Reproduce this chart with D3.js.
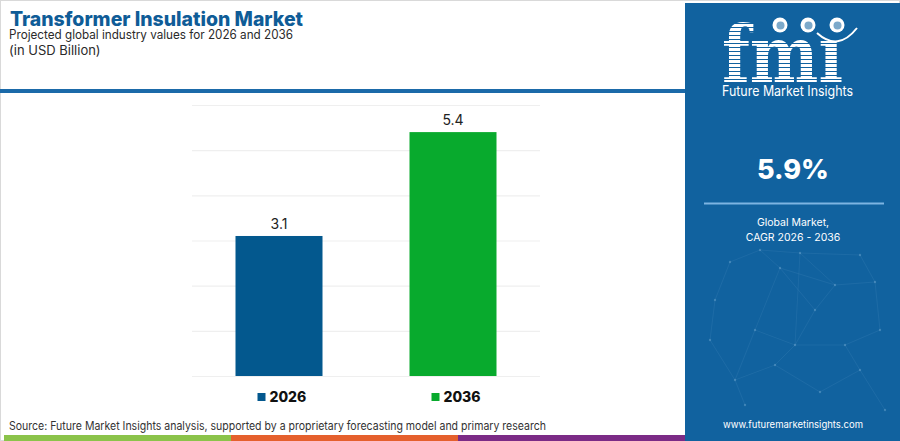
<!DOCTYPE html>
<html>
<head>
<meta charset="utf-8">
<script src="https://cdn.jsdelivr.net/npm/d3@7"></script>
<style>
  body { margin: 0; background: #fff; }
  svg { display: block; font-family: Inter, "Noto Sans", sans-serif; }
</style>
</head>
<body>
<div class="canva"></div>
<script>
// data
const years = ['2026', '2036'];
const values = [3.1, 5.4];
const barColors = ['#03588e', '#08aa2d'];
const yTicks = [0, 1, 2, 3, 4, 5, 6];
const cagr = '5.9%';
const stripeColors = ['#8bc34a', '#e5602d', '#7b2b86'];

const W = 900, H = 441;

const svg = d3.select('.canva').append('svg')
  .attr('width', W)
  .attr('height', H);

// frame
svg.append('rect')
  .attr('x', 0.5).attr('y', 0.5)
  .attr('width', W - 1).attr('height', H - 1)
  .attr('fill', '#fff')
  .attr('stroke', '#d9d9d9');

// header
svg.append('text')
  .attr('x', 10).attr('y', 26)
  .attr('font-size', 20)
  .attr('font-weight', 800)
  .attr('fill', '#0f5c97')
  .attr('textLength', 293)
  .attr('lengthAdjust', 'spacingAndGlyphs')
  .text('Transformer Insulation Market');

svg.append('text')
  .attr('x', 9).attr('y', 39)
  .attr('font-size', 12.5)
  .attr('fill', '#2a2a2a')
  .attr('textLength', 284)
  .attr('lengthAdjust', 'spacingAndGlyphs')
  .text('Projected global industry values for 2026 and 2036');

svg.append('text')
  .attr('x', 9).attr('y', 55)
  .attr('font-size', 13)
  .attr('fill', '#2a2a2a')
  .text('(in USD Billion)');

svg.append('rect')
  .attr('x', 0).attr('y', 89)
  .attr('width', 686).attr('height', 4)
  .attr('fill', '#1b6aa9');

// chart
const x = d3.scaleBand()
  .domain(years)
  .range([192, 540])
  .paddingInner(0.5)
  .paddingOuter(0.25);

const y = d3.scaleLinear()
  .domain([0, 6])
  .range([376, 105]);

const grid = svg.append('g')
  .attr('transform', 'translate(192,0)')
  .call(d3.axisLeft(y).tickValues(yTicks).tickSize(-348).tickFormat(''));
grid.select('.domain').remove();
grid.selectAll('line').attr('stroke', '#efefef').attr('stroke-width', 1.2);

svg.selectAll('rect.bar')
  .data(values)
  .enter().append('rect')
  .attr('class', 'bar')
  .attr('x', (d, i) => x(years[i]))
  .attr('y', d => y(d))
  .attr('width', x.bandwidth())
  .attr('height', d => y(0) - y(d))
  .attr('fill', (d, i) => barColors[i]);

svg.selectAll('text.val')
  .data(values)
  .enter().append('text')
  .attr('class', 'val')
  .attr('x', (d, i) => x(years[i]) + x.bandwidth() / 2)
  .attr('y', d => y(d) - 7)
  .attr('text-anchor', 'middle')
  .attr('font-size', 14)
  .attr('fill', '#222')
  .text(d => d.toFixed(1));

// legend
const legend = svg.selectAll('g.leg')
  .data(years)
  .enter().append('g')
  .attr('class', 'leg')
  .attr('transform', (d, i) => `translate(${x(d) + 22},0)`);

legend.append('rect')
  .attr('x', 0).attr('y', 393)
  .attr('width', 8).attr('height', 8)
  .attr('fill', (d, i) => barColors[i]);

legend.append('text')
  .attr('x', 12).attr('y', 402)
  .attr('font-size', 14)
  .attr('font-weight', 800)
  .attr('fill', '#111')
  .text(d => d);

// source
svg.append('text')
  .attr('x', 9).attr('y', 430)
  .attr('font-size', 11.5)
  .attr('fill', '#333')
  .attr('textLength', 537)
  .attr('lengthAdjust', 'spacingAndGlyphs')
  .text('Source: Future Market Insights analysis, supported by a proprietary forecasting model and primary research');

// color strip
const stripX = d3.scaleLinear().domain([0, 3]).range([4, 685]);
svg.selectAll('rect.strip')
  .data(stripeColors)
  .enter().append('rect')
  .attr('class', 'strip')
  .attr('x', (d, i) => stripX(i))
  .attr('y', 435)
  .attr('width', stripX(1) - stripX(0))
  .attr('height', 6)
  .attr('fill', d => d);

// right panel
const panel = svg.append('g');
panel.append('rect')
  .attr('x', 685).attr('y', 3)
  .attr('width', W - 685).attr('height', H - 3)
  .attr('fill', '#11629f');

// faint network decoration
const nodes = [[730,262],[760,250],[800,253],[780,268],[835,285],[875,282],[715,300],[755,330],[795,345],[845,345],[880,330],[735,380],[775,365],[820,392],[860,370],[745,405],[885,410],[710,340],[860,255],[815,310]];
const links = [[0,1],[1,2],[2,4],[4,5],[0,6],[1,3],[3,7],[7,8],[8,9],[9,10],[5,10],[6,17],[17,11],[11,12],[12,8],[12,13],[13,14],[14,9],[11,15],[14,16],[3,4],[7,11],[2,8],[2,18],[18,5],[19,8],[19,4],[19,3]];
panel.selectAll('line.net')
  .data(links)
  .enter().append('line')
  .attr('x1', d => nodes[d[0]][0]).attr('y1', d => nodes[d[0]][1])
  .attr('x2', d => nodes[d[1]][0]).attr('y2', d => nodes[d[1]][1])
  .attr('stroke', '#5f9ccc').attr('stroke-opacity', 0.22).attr('stroke-width', 0.7);
panel.selectAll('circle.net')
  .data(nodes)
  .enter().append('circle')
  .attr('cx', d => d[0]).attr('cy', d => d[1]).attr('r', 1.2)
  .attr('fill', '#8fbde0').attr('fill-opacity', 0.35);

// logo
const defs = svg.append('defs');
const pat = defs.append('pattern')
  .attr('id', 'stripes')
  .attr('patternUnits', 'userSpaceOnUse')
  .attr('width', 8).attr('height', 4);
pat.append('rect').attr('width', 8).attr('height', 3).attr('fill', '#fff');

panel.append('text')
  .attr('x', 722).attr('y', 82)
  .attr('font-family', '"DejaVu Serif", serif')
  .attr('font-weight', 'bold')
  .attr('font-size', 78)
  .attr('fill', 'url(#stripes)')
  .attr('textLength', 121)
  .attr('lengthAdjust', 'spacingAndGlyphs')
  .text('fmı');

[780, 808, 837].forEach(cx => {
  panel.append('circle')
    .attr('cx', cx).attr('cy', 25).attr('r', 7.5)
    .attr('fill', '#fff');
  panel.append('circle')
    .attr('cx', cx + 0.5).attr('cy', 25.5).attr('r', 4)
    .attr('fill', '#11629f').attr('fill-opacity', 0.55);
});

panel.append('path')
  .attr('d', 'M817,33 Q838,52 857,28')
  .attr('fill', 'none')
  .attr('stroke', '#fff')
  .attr('stroke-width', 2);

panel.append('text')
  .attr('x', 722).attr('y', 96)
  .attr('font-size', 14)
  .attr('fill', '#fff')
  .attr('textLength', 131)
  .attr('lengthAdjust', 'spacingAndGlyphs')
  .text('Future Market Insights');

panel.append('text')
  .attr('x', 793).attr('y', 179)
  .attr('text-anchor', 'middle')
  .attr('font-size', 27)
  .attr('font-weight', 800)
  .attr('fill', '#fff')
  .text(cagr);

panel.append('line')
  .attr('x1', 704).attr('x2', 884)
  .attr('y1', 203.5).attr('y2', 203.5)
  .attr('stroke', '#7db4e2').attr('stroke-width', 2);

panel.append('text')
  .attr('x', 793).attr('y', 226)
  .attr('text-anchor', 'middle')
  .attr('font-size', 10.5)
  .attr('fill', '#fff')
  .text('Global Market,');

panel.append('text')
  .attr('x', 793).attr('y', 241)
  .attr('text-anchor', 'middle')
  .attr('font-size', 10.5)
  .attr('fill', '#fff')
  .text('CAGR 2026 - 2036');

panel.append('text')
  .attr('x', 793).attr('y', 428)
  .attr('text-anchor', 'middle')
  .attr('font-size', 9.5)
  .attr('fill', '#fff')
  .text('www.futuremarketinsights.com');
</script>
</body>
</html>
